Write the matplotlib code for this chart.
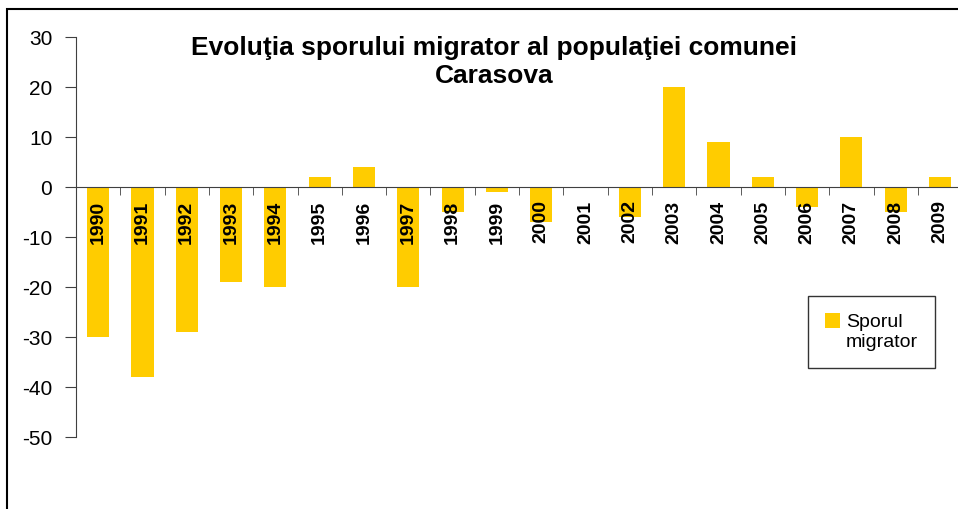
import numpy as np
import matplotlib.pyplot as plt
from matplotlib.patches import Rectangle

plt.rcParams['font.family'] = ['Liberation Sans', 'DejaVu Sans']
plt.rcParams['axes.unicode_minus'] = False

years = ['1990', '1991', '1992', '1993', '1994', '1995', '1996', '1997', '1998', '1999',
         '2000', '2001', '2002', '2003', '2004', '2005', '2006', '2007', '2008', '2009']
sporul = [-30, -38, -29, -19, -20, 2, 4, -20, -5, -1,
          -7, 0, -6, 20, 9, 2, -4, 10, -5, 2]
yticks = [30, 20, 10, 0, -10, -20, -30, -40, -50]

fig = plt.figure(figsize=(9.58, 5.10), dpi=100)
ax = fig.add_axes([0.0793, 0.1412, 0.925, 0.7843])

x = np.arange(len(years))
ax.bar(x, sporul, width=0.5, color='#FFCC00', label='Sporul\nmigrator', zorder=1)
ax.set_axisbelow(False)

ax.set_xlim(-0.5, len(years) - 0.5)
ax.set_ylim(-50, 30)
ax.set_yticks(yticks)
ax.tick_params(axis='y', labelsize=15, length=8, color='#404040', pad=9)

# x axis sits on zero, labels just under it
ax.spines['bottom'].set_position(('data', 0))
ax.spines['top'].set_visible(False)
ax.spines['right'].set_visible(False)
ax.spines['left'].set_color('#404040')
ax.spines['bottom'].set_color('#404040')
ax.set_xticks(x)
ax.set_xticklabels(years, rotation=90, fontweight='bold', fontsize=14)
ax.tick_params(axis='x', which='major', length=0, pad=9)
ax.set_xticks(x[:-1] + 0.5, minor=True)
ax.tick_params(axis='x', which='minor', length=6, color='#404040')

fig.text(0.516, 0.878, 'Evoluţia sporului migrator al populaţiei comunei\nCarasova',
         ha='center', va='center', fontsize=19, fontweight='bold', linespacing=1.2)

leg = ax.legend(loc='upper left', bbox_to_anchor=(0.826, 0.3525), fontsize=14,
                frameon=True, fancybox=False, edgecolor='black', handlelength=0.75,
                handleheight=0.75, handletextpad=0.3, borderpad=0.9, borderaxespad=0)
leg.get_frame().set_linewidth(1.0)
h = leg.legend_handles[0]
h.set_y(h.get_y() + 8)

fig.patches.append(Rectangle((7 / 958, -0.05), 1.1, 1.05 - 10 / 510, transform=fig.transFigure,
                             fill=False, edgecolor='black', linewidth=1.5))

fig.savefig('out.png', dpi=100)
